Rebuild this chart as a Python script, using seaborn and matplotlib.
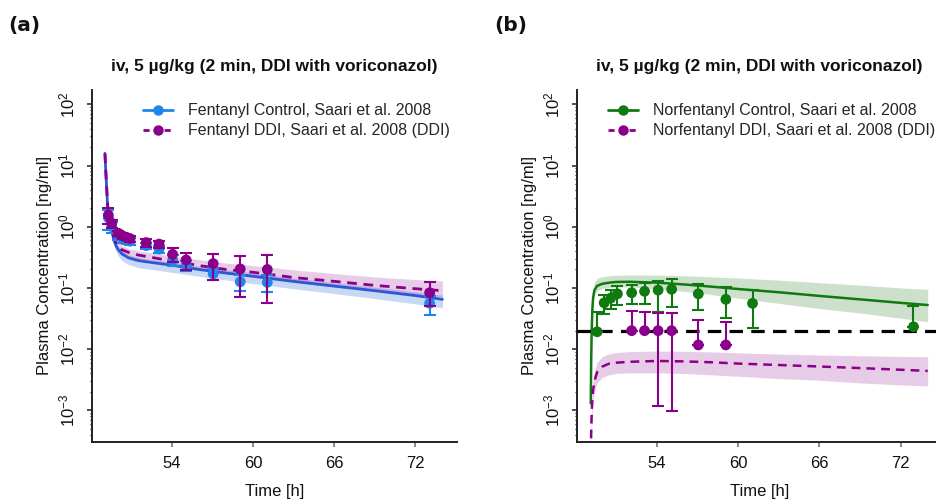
import matplotlib
matplotlib.use("Agg")
import matplotlib.pyplot as plt
from matplotlib.lines import Line2D
from matplotlib.ticker import LogLocator, LogFormatterSciNotation, NullFormatter, FixedLocator
import seaborn as sns

# ---------------- fentanyl (panel a) ----------------
t_fen_sim = [49.05, 49.1, 49.15, 49.25, 49.4, 49.55, 49.7, 49.85, 50.0, 50.3, 50.8,
             51.5, 52.5, 54, 56, 58, 60, 63, 66, 69, 72, 74]
fen_ctrl_sim = [15.8, 9.0, 5.5, 2.1, 1.2, 0.85, 0.62, 0.5, 0.43, 0.36, 0.31,
                0.28, 0.26, 0.235, 0.2, 0.175, 0.155, 0.128, 0.107, 0.09, 0.075, 0.065]
fen_ctrl_lo = [14.0, 7.8, 4.7, 1.8, 1.0, 0.7, 0.5, 0.4, 0.34, 0.28, 0.24,
               0.215, 0.2, 0.18, 0.155, 0.135, 0.118, 0.097, 0.081, 0.067, 0.055, 0.047]
fen_ctrl_hi = [16.5, 9.8, 6.0, 2.3, 1.32, 0.94, 0.69, 0.56, 0.48, 0.4, 0.345,
               0.315, 0.29, 0.265, 0.225, 0.198, 0.175, 0.145, 0.122, 0.103, 0.086, 0.076]
fen_ddi_sim = [15.8, 9.1, 5.6, 2.2, 1.25, 0.9, 0.68, 0.56, 0.49, 0.42, 0.38,
               0.345, 0.315, 0.275, 0.232, 0.2, 0.18, 0.148, 0.128, 0.11, 0.097, 0.09]
fen_ddi_lo = [14.5, 8.0, 4.8, 1.9, 1.05, 0.76, 0.57, 0.47, 0.41, 0.35, 0.315,
              0.285, 0.26, 0.235, 0.2, 0.17, 0.15, 0.122, 0.105, 0.09, 0.078, 0.072]
fen_ddi_hi = [17.0, 10.0, 6.2, 2.45, 1.4, 1.0, 0.78, 0.65, 0.57, 0.49, 0.44,
              0.405, 0.375, 0.335, 0.29, 0.255, 0.232, 0.197, 0.172, 0.151, 0.137, 0.13]

t_fen_obs = [49.3, 49.55, 50.05, 50.4, 50.65, 50.9, 52.1, 53.05, 54.05, 55.05,
             57.05, 59.05, 61.05, 73.05]
fen_ctrl_obs = [1.4, 1.0, 0.7, 0.62, 0.6, 0.58, 0.49, 0.43, 0.285, 0.23,
                0.17, 0.126, 0.123, 0.056]
fen_ctrl_obs_lo = [0.88, 0.78, 0.6, 0.55, 0.53, 0.51, 0.43, 0.37, 0.23, 0.19,
                   0.134, 0.09, 0.085, 0.036]
fen_ctrl_obs_hi = [1.9, 1.2, 0.8, 0.69, 0.67, 0.65, 0.54, 0.48, 0.34, 0.28,
                   0.21, 0.16, 0.16, 0.075]
fen_ddi_obs = [1.55, 1.14, 0.78, 0.7, 0.67, 0.64, 0.55, 0.52, 0.354, 0.286,
               0.25, 0.204, 0.2, 0.0835]
fen_ddi_obs_lo = [1.1, 0.95, 0.7, 0.63, 0.6, 0.57, 0.47, 0.45, 0.268, 0.196,
                  0.134, 0.072, 0.056, 0.05]
fen_ddi_obs_hi = [2.0, 1.3, 0.86, 0.77, 0.74, 0.71, 0.62, 0.59, 0.454, 0.367,
                  0.36, 0.336, 0.34, 0.123]

# ---------------- norfentanyl (panel b) ----------------
t_nor_sim = [49.13, 49.16, 49.2, 49.25, 49.3, 49.4, 49.6, 50.0, 50.5, 51, 52,
             54, 56, 58, 60, 63, 66, 69, 72, 74]
nor_ctrl_sim = [0.0013, 0.006, 0.02, 0.045, 0.068, 0.092, 0.108, 0.117, 0.122, 0.125, 0.126,
                0.122, 0.114, 0.105, 0.096, 0.085, 0.074, 0.065, 0.057, 0.0525]
nor_ctrl_lo = [0.0011, 0.005, 0.017, 0.038, 0.057, 0.077, 0.09, 0.098, 0.102, 0.104, 0.104,
               0.097, 0.088, 0.078, 0.068, 0.056, 0.046, 0.039, 0.032, 0.028]
nor_ctrl_hi = [0.0016, 0.008, 0.027, 0.06, 0.09, 0.122, 0.143, 0.153, 0.158, 0.161, 0.163,
               0.162, 0.158, 0.152, 0.145, 0.134, 0.122, 0.111, 0.1, 0.095]
nor_ddi_sim = [0.0002, 0.0004, 0.0009, 0.0016, 0.0021, 0.003, 0.0042, 0.0052, 0.0058, 0.006, 0.0062,
               0.0064, 0.0063, 0.0061, 0.0058, 0.0055, 0.0052, 0.0049, 0.0046, 0.0044]
nor_ddi_lo = [0.00013, 0.00026, 0.0006, 0.001, 0.0014, 0.002, 0.0028, 0.0035, 0.0038, 0.004, 0.0041,
              0.0041, 0.004, 0.0038, 0.0036, 0.0033, 0.0031, 0.0028, 0.0026, 0.0025]
nor_ddi_hi = [0.0003, 0.0006, 0.0013, 0.0023, 0.003, 0.0044, 0.0061, 0.0076, 0.0084, 0.0088, 0.0091,
              0.0093, 0.0092, 0.009, 0.0087, 0.0083, 0.008, 0.0078, 0.0076, 0.0075]

t_nor_ctrl_obs = [49.6, 50.12, 50.6, 51.1, 52.15, 53.1, 54.1, 55.1, 57.07, 59.1, 61.07, 72.95]
nor_ctrl_obs = [0.0192, 0.057, 0.068, 0.08, 0.0835, 0.088, 0.092, 0.095, 0.08, 0.065, 0.056, 0.0232]
nor_ctrl_obs_lo = [0.0192, 0.0375, 0.046, 0.052, 0.054, 0.054, 0.04, 0.049, 0.0435, 0.0327, 0.0219, 0.0232]
nor_ctrl_obs_hi = [0.041, 0.078, 0.092, 0.107, 0.112, 0.122, 0.131, 0.14, 0.116, 0.102, 0.092, 0.0508]

t_nor_ddi_obs = [52.15, 53.1, 54.1, 55.1, 57.07, 59.1]
nor_ddi_obs = [0.02, 0.02, 0.02, 0.02, 0.0117, 0.0117]
nor_ddi_obs_lo = [0.02, 0.02, 0.00118, 0.00097, 0.0117, 0.0117]
nor_ddi_obs_hi = [0.0425, 0.04, 0.0385, 0.0385, 0.0298, 0.028]

lloq = 0.02

x_ticks = [54, 60, 66, 72]
title = "iv, 5 µg/kg (2 min, DDI with voriconazol)"

# ---------------- styling ----------------
BLUE_LINE = "#2C58D6"
BLUE_PT = "#1C86EE"
BLUE_BAND = "#1E64D0"
PURPLE = "#8B008B"
GREEN = "#0F7A0F"
GREEN_BAND = "#006400"

sns.set_theme(style="ticks")
plt.rcParams["font.family"] = ["Liberation Sans", "DejaVu Sans"]
plt.rcParams["axes.unicode_minus"] = True

fig = plt.figure(figsize=(9.36, 4.99), dpi=100)
ax_a = fig.add_axes([91.7 / 936, 57.3 / 499, 365 / 936, 351.7 / 499])
ax_b = fig.add_axes([577.2 / 936, 57.3 / 499, 365 / 936, 351.7 / 499])

ddi_dash = (0, (3.5, 2.4))


def err(vals, lo, hi):
    return [[v - l for v, l in zip(vals, lo)], [h - v for v, h in zip(vals, hi)]]


def style_axes(ax, xlim):
    ax.set_yscale("log")
    ax.set_ylim(10 ** -3.513, 10 ** 2.234)
    ax.set_xlim(*xlim)
    ax.xaxis.set_major_locator(FixedLocator(x_ticks))
    ax.yaxis.set_major_locator(LogLocator(base=10, numticks=20))
    ax.yaxis.set_major_formatter(LogFormatterSciNotation())
    ax.yaxis.set_minor_locator(LogLocator(base=10, subs=range(2, 10), numticks=20))
    ax.yaxis.set_minor_formatter(NullFormatter())
    for side in ("top", "right"):
        ax.spines[side].set_visible(False)
    for side in ("left", "bottom"):
        ax.spines[side].set_color("#222222")
        ax.spines[side].set_linewidth(1.4)
    ax.tick_params(axis="x", which="major", length=3.5, width=1.2, color="#777777",
                   pad=6.5, labelsize=12, labelcolor="#111111")
    ax.tick_params(axis="y", which="major", length=3.5, width=1.1, color="#222222",
                   pad=7, labelsize=12, labelcolor="#111111")
    ax.tick_params(axis="y", which="minor", length=1.8, width=0.9, color="#222222")
    for lab in ax.get_yticklabels():
        lab.set_rotation(90)
        lab.set_va("center")
    ax.set_xlabel("Time [h]", fontsize=12, color="#111111")
    ax.set_ylabel("Plasma Concentration [ng/ml]", fontsize=12, color="#111111")
    ax.xaxis.set_label_coords(0.5, -0.12)
    ax.yaxis.set_label_coords(-0.11, 0.5)
    ax.set_title(title, fontsize=12.5, fontweight="bold", pad=14, color="#111111")
    ax.grid(False)


# ---- panel a ----
ax = ax_a
ax.fill_between(t_fen_sim, fen_ctrl_lo, fen_ctrl_hi, color=BLUE_BAND, alpha=0.25, lw=0)
ax.fill_between(t_fen_sim, fen_ddi_lo, fen_ddi_hi, color=PURPLE, alpha=0.2, lw=0)
sns.lineplot(x=t_fen_sim, y=fen_ctrl_sim, ax=ax, color=BLUE_LINE, lw=2.0, errorbar=None)
sns.lineplot(x=t_fen_sim, y=fen_ddi_sim, ax=ax, color=PURPLE, lw=2.0, linestyle=ddi_dash,
             errorbar=None)
ax.errorbar(t_fen_obs, fen_ctrl_obs, yerr=err(fen_ctrl_obs, fen_ctrl_obs_lo, fen_ctrl_obs_hi),
            fmt="none", ecolor=BLUE_PT, elinewidth=1.5, capsize=4, capthick=1.5, zorder=4)
sns.scatterplot(x=t_fen_obs, y=fen_ctrl_obs, ax=ax, color=BLUE_PT, s=60, edgecolor="none",
                zorder=5)
ax.errorbar(t_fen_obs, fen_ddi_obs, yerr=err(fen_ddi_obs, fen_ddi_obs_lo, fen_ddi_obs_hi),
            fmt="none", ecolor=PURPLE, elinewidth=1.5, capsize=4, capthick=1.5, zorder=6)
sns.scatterplot(x=t_fen_obs, y=fen_ddi_obs, ax=ax, color=PURPLE, s=60, edgecolor="none",
                zorder=7)
style_axes(ax, (48.07, 75.05))
handles_a = [
    Line2D([], [], color=BLUE_PT, lw=2, marker="o", ms=6.5),
    Line2D([], [], color=PURPLE, lw=2, marker="o", ms=6.5, linestyle=(0, (2.2, 1.6))),
]
ax.legend(handles_a, ["Fentanyl Control, Saari et al. 2008",
                      "Fentanyl DDI, Saari et al. 2008 (DDI)"],
          loc="upper left", bbox_to_anchor=(0.1405, 0.962), frameon=False, fontsize=11.5,
          handlelength=1.9, handletextpad=0.9, labelspacing=0.3, borderpad=0,
          borderaxespad=0)

# ---- panel b ----
ax = ax_b
ax.fill_between(t_nor_sim, nor_ctrl_lo, nor_ctrl_hi, color=GREEN_BAND, alpha=0.2, lw=0)
ax.fill_between(t_nor_sim, nor_ddi_lo, nor_ddi_hi, color=PURPLE, alpha=0.2, lw=0)
sns.lineplot(x=t_nor_sim, y=nor_ctrl_sim, ax=ax, color=GREEN, lw=1.8, errorbar=None)
sns.lineplot(x=t_nor_sim, y=nor_ddi_sim, ax=ax, color=PURPLE, lw=1.8, linestyle=ddi_dash,
             errorbar=None)
ax.axhline(lloq, color="black", lw=2.3, linestyle=(0, (4.2, 2.6)), zorder=3)
ax.errorbar(t_nor_ctrl_obs, nor_ctrl_obs,
            yerr=err(nor_ctrl_obs, nor_ctrl_obs_lo, nor_ctrl_obs_hi),
            fmt="none", ecolor=GREEN, elinewidth=1.5, capsize=4, capthick=1.5, zorder=4)
sns.scatterplot(x=t_nor_ctrl_obs, y=nor_ctrl_obs, ax=ax, color=GREEN, s=60, edgecolor="none",
                zorder=5)
ax.errorbar(t_nor_ddi_obs, nor_ddi_obs, yerr=err(nor_ddi_obs, nor_ddi_obs_lo, nor_ddi_obs_hi),
            fmt="none", ecolor=PURPLE, elinewidth=1.5, capsize=4, capthick=1.5, zorder=6)
sns.scatterplot(x=t_nor_ddi_obs, y=nor_ddi_obs, ax=ax, color=PURPLE, s=60, edgecolor="none",
                zorder=7)
style_axes(ax, (48.13, 75.07))
handles_b = [
    Line2D([], [], color=GREEN, lw=2, marker="o", ms=6.5),
    Line2D([], [], color=PURPLE, lw=2, marker="o", ms=6.5, linestyle=(0, (2.2, 1.6))),
]
ax.legend(handles_b, ["Norfentanyl Control, Saari et al. 2008",
                      "Norfentanyl DDI, Saari et al. 2008 (DDI)"],
          loc="upper left", bbox_to_anchor=(0.0844, 0.962), frameon=False, fontsize=11.5,
          handlelength=1.9, handletextpad=0.9, labelspacing=0.3, borderpad=0,
          borderaxespad=0)

# panel letters
fig.text(8 / 936, 1 - 26 / 499, "(a)", fontsize=14.5, fontweight="bold",
         family="DejaVu Sans", va="center", ha="left", color="#111111")
fig.text(494 / 936, 1 - 26 / 499, "(b)", fontsize=14.5, fontweight="bold",
         family="DejaVu Sans", va="center", ha="left", color="#111111")

fig.savefig("out.png", dpi=100)
